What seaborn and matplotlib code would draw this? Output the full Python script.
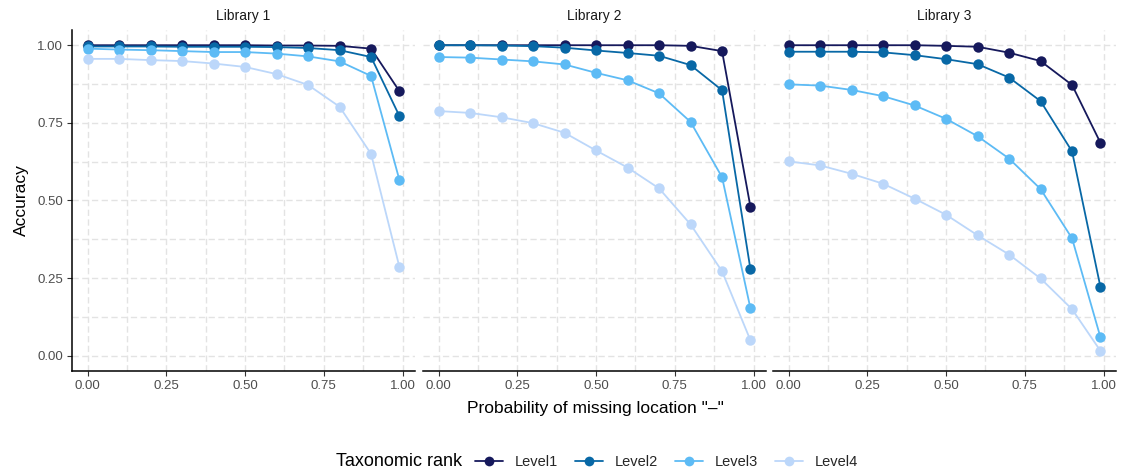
import matplotlib
matplotlib.use("Agg")
import matplotlib.pyplot as plt
from matplotlib.lines import Line2D
from matplotlib.ticker import FixedLocator
import numpy as np
import pandas as pd
import seaborn as sns

# Probability of missing location for each evaluation run
prob = [0.0, 0.1, 0.2, 0.3, 0.4, 0.5, 0.6, 0.7, 0.8, 0.9, 0.99]

libraries = ["Library 1", "Library 2", "Library 3"]
levels = ["Level1", "Level2", "Level3", "Level4"]

# Accuracy per library and taxonomic rank
lib1_level1 = [1.000, 1.000, 1.000, 1.000, 1.000, 1.000, 0.999, 0.999, 0.998, 0.989, 0.852]
lib1_level2 = [0.996, 0.996, 0.996, 0.995, 0.995, 0.995, 0.994, 0.991, 0.984, 0.962, 0.772]
lib1_level3 = [0.989, 0.986, 0.984, 0.981, 0.978, 0.978, 0.973, 0.964, 0.948, 0.901, 0.566]
lib1_level4 = [0.956, 0.956, 0.952, 0.949, 0.941, 0.930, 0.907, 0.872, 0.802, 0.650, 0.286]

lib2_level1 = [1.000, 1.000, 1.000, 1.000, 1.000, 1.000, 1.000, 1.000, 0.998, 0.981, 0.480]
lib2_level2 = [1.000, 1.000, 0.999, 0.997, 0.992, 0.983, 0.975, 0.966, 0.936, 0.855, 0.279]
lib2_level3 = [0.962, 0.960, 0.954, 0.948, 0.938, 0.911, 0.887, 0.845, 0.753, 0.575, 0.153]
lib2_level4 = [0.788, 0.782, 0.768, 0.749, 0.718, 0.661, 0.606, 0.539, 0.423, 0.272, 0.050]

lib3_level1 = [1.000, 1.000, 1.000, 1.000, 1.000, 0.998, 0.995, 0.976, 0.949, 0.872, 0.686]
lib3_level2 = [0.979, 0.979, 0.979, 0.977, 0.968, 0.955, 0.939, 0.896, 0.820, 0.658, 0.222]
lib3_level3 = [0.874, 0.870, 0.856, 0.836, 0.806, 0.763, 0.707, 0.635, 0.537, 0.378, 0.060]
lib3_level4 = [0.626, 0.613, 0.586, 0.554, 0.506, 0.454, 0.388, 0.326, 0.249, 0.150, 0.016]

series = {
    "Library 1": [lib1_level1, lib1_level2, lib1_level3, lib1_level4],
    "Library 2": [lib2_level1, lib2_level2, lib2_level3, lib2_level4],
    "Library 3": [lib3_level1, lib3_level2, lib3_level3, lib3_level4],
}

rows = []
for lib in libraries:
    for lev, vals in zip(levels, series[lib]):
        for p, v in zip(prob, vals):
            rows.append({"library": lib, "rank": lev, "prob": p, "accuracy": v})
df = pd.DataFrame(rows)

palette = {"Level1": "#16195C", "Level2": "#0868A6", "Level3": "#5DBBF5", "Level4": "#BCD7FA"}

sns.set_style("white")
plt.rcParams["font.family"] = ["Liberation Sans", "DejaVu Sans"]

W, H = 1128, 475
fig = plt.figure(figsize=(W / 100, H / 100), dpi=100)

panel_x = [(72, 415), (423, 766), (773, 1116)]
top_px, bot_px = 30, 371

grid_kw = dict(color="#E3E3E3", linestyle=(0, (4.5, 2.5)), linewidth=1.0)
axes = []
for i, (lib, (x0, x1)) in enumerate(zip(libraries, panel_x)):
    ax = fig.add_axes([x0 / W, 1 - bot_px / H, (x1 - x0) / W, (bot_px - top_px) / H])
    axes.append(ax)
    sub = df[df["library"] == lib]
    sns.lineplot(data=sub, x="prob", y="accuracy", hue="rank", hue_order=levels,
                 palette=palette, marker="o", markersize=7.5, markeredgewidth=0,
                 linewidth=1.3, legend=False, ax=ax, zorder=3)
    ax.set_xlim(-0.0495, 1.0395)
    ax.set_ylim(-0.049, 1.049)
    major = [0, 0.25, 0.5, 0.75, 1.0]
    ax.set_xticks(major)
    ax.set_yticks(major)
    ax.xaxis.set_minor_locator(FixedLocator([0.125, 0.375, 0.625, 0.875]))
    ax.yaxis.set_minor_locator(FixedLocator([0.125, 0.375, 0.625, 0.875]))
    ax.grid(True, which="both", **grid_kw)
    ax.set_axisbelow(True)
    ax.set_xticklabels(["0.00", "0.25", "0.50", "0.75", "1.00"])
    if i == 0:
        ax.set_yticklabels(["0.00", "0.25", "0.50", "0.75", "1.00"])
    else:
        ax.set_yticklabels([])
    ax.tick_params(axis="both", which="major", length=3.5, width=0.8, color="#333333",
                   labelsize=9.5, labelcolor="#4D4D4D", pad=3,
                   left=(i == 0), bottom=True)
    ax.tick_params(axis="both", which="minor", length=0)
    for s in ["top", "right"]:
        ax.spines[s].set_visible(False)
    ax.spines["bottom"].set_color("black")
    ax.spines["bottom"].set_linewidth(1.1)
    if i == 0:
        ax.spines["left"].set_color("black")
        ax.spines["left"].set_linewidth(1.1)
    else:
        ax.spines["left"].set_visible(False)
    ax.set_xlabel("")
    ax.set_ylabel("")
    ax.set_title(lib, fontsize=10, color="#1A1A1A", pad=7)

axes[0].set_ylabel("Accuracy", fontsize=12.5, color="black", labelpad=6)
fig.text(595 / W, 1 - 408 / H, "Probability of missing location \"\u2013\"",
         ha="center", va="center", fontsize=12.5, color="black")

# Legend along the bottom with the title inline
fig.text(336 / W, 1 - 462 / H, "Taxonomic rank", ha="left", va="center",
         fontsize=13, color="black")
handles = [Line2D([0], [0], color=palette[l], marker="o", markersize=7,
                  markeredgewidth=0, linewidth=1.3) for l in levels]
fig.legend(handles, levels, loc="center left", bbox_to_anchor=(475 / W, 1 - 462 / H),
           ncol=4, frameon=False, fontsize=10.5, handlelength=1.9, handletextpad=0.8,
           columnspacing=1.2, borderaxespad=0, borderpad=0)

fig.savefig("out.png", dpi=100)
